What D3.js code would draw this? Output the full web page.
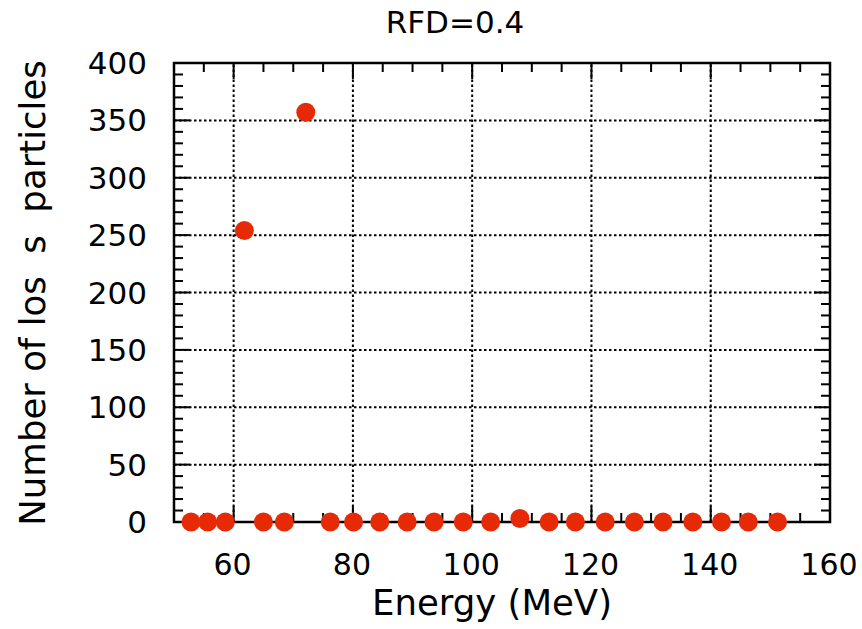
<!DOCTYPE html>
<html>
<head>
<meta charset="utf-8">
<script src="https://cdn.jsdelivr.net/npm/d3@7"></script>
<style>
  html, body { margin: 0; padding: 0; background: #fff; }
  svg { display: block; }
  text { font-family: "DejaVu Sans", Verdana, sans-serif; fill: #000; }
</style>
</head>
<body>
<svg id="chart" width="862" height="629"></svg>
<script>
// Lost-particle counts per beam energy
const energies = [52.85, 55.65, 58.6, 61.8, 65.0, 68.5, 72.1, 76.2, 80.1, 84.5, 89.1, 93.6,
                  98.5, 103.1, 108.0, 112.9, 117.3, 122.3, 127.2, 132.0, 137.0, 141.8, 146.3, 151.2];
const lostCounts = [0, 0, 0, 254, 0, 0, 357, 0, 0, 0, 0, 0,
                    0, 0, 3, 0, 0, 0, 0, 0, 0, 0, 0, 0];

const xTicks = [60, 80, 100, 120, 140, 160];
const yTicks = [0, 50, 100, 150, 200, 250, 300, 350, 400];
const xGrid = [60, 80, 100, 120, 140];
const yGrid = [50, 100, 150, 200, 250, 300, 350];
const xMinor = d3.range(55, 160, 5);
const yMinor = d3.range(10, 400, 10);

const titleText = "RFD=0.4";
const xLabel = "Energy (MeV)";
const yLabel = "Number of los  s  particles";

const svg = d3.select("#chart");
const L = 174, R = 830, T = 63, B = 522;

const x = d3.scaleLinear().domain([50, 160]).range([L, R]);
const y = d3.scaleLinear().domain([0, 400]).range([B, T]);

// dotted grid
const grid = svg.append("g").attr("stroke", "#000").attr("stroke-width", 2)
  .attr("stroke-dasharray", "2.5,2.5");
grid.selectAll(".gx").data(xGrid).join("line")
  .attr("x1", d => x(d)).attr("x2", d => x(d)).attr("y1", B).attr("y2", T);
grid.selectAll(".gy").data(yGrid).join("line")
  .attr("y1", d => y(d)).attr("y2", d => y(d)).attr("x1", L).attr("x2", R);

// inward ticks on all four sides
const ticks = svg.append("g").attr("stroke", "#000").attr("stroke-width", 2);
const majLen = 16, minLen = 9;
function xTickSet(vals, len) {
  ticks.append("g").selectAll("line").data(vals).join("line")
    .attr("x1", d => x(d)).attr("x2", d => x(d)).attr("y1", B).attr("y2", B - len);
  ticks.append("g").selectAll("line").data(vals).join("line")
    .attr("x1", d => x(d)).attr("x2", d => x(d)).attr("y1", T).attr("y2", T + len);
}
function yTickSet(vals, len) {
  ticks.append("g").selectAll("line").data(vals).join("line")
    .attr("y1", d => y(d)).attr("y2", d => y(d)).attr("x1", L).attr("x2", L + len);
  ticks.append("g").selectAll("line").data(vals).join("line")
    .attr("y1", d => y(d)).attr("y2", d => y(d)).attr("x1", R).attr("x2", R - len);
}
xTickSet(xMinor.filter(v => !xTicks.includes(v)), minLen);
xTickSet(xTicks, majLen);
yTickSet(yMinor.filter(v => !yTicks.includes(v)), minLen);
yTickSet(yTicks, majLen);

// frame
svg.append("rect").attr("x", L).attr("y", T).attr("width", R - L).attr("height", B - T)
  .attr("fill", "none").attr("stroke", "#000").attr("stroke-width", 2.5);

// tick labels
svg.append("g").selectAll("text").data(xTicks).join("text")
  .attr("x", d => x(d) - 1).attr("y", 575)
  .attr("text-anchor", "middle").attr("font-size", 30)
  .text(d => d);
svg.append("g").selectAll("text").data(yTicks).join("text")
  .attr("x", 147).attr("y", d => y(d) + 11)
  .attr("text-anchor", "end").attr("font-size", 31)
  .text(d => d);

// titles
svg.append("text").attr("x", 455).attr("y", 33).attr("text-anchor", "middle")
  .attr("font-size", 31).text(titleText);
svg.append("text").attr("x", 492).attr("y", 615).attr("text-anchor", "middle")
  .attr("font-size", 35.5).text(xLabel);
svg.append("text").attr("transform", "translate(45,293) rotate(-90)")
  .attr("text-anchor", "middle").attr("font-size", 35.5)
  .style("white-space", "pre").text(yLabel);

// data points
svg.append("g").selectAll("circle").data(energies.map((e, i) => [e, lostCounts[i]])).join("circle")
  .attr("cx", d => x(d[0])).attr("cy", d => y(d[1]))
  .attr("r", 9.5).attr("fill", "#e62a05");
</script>
</body>
</html>
